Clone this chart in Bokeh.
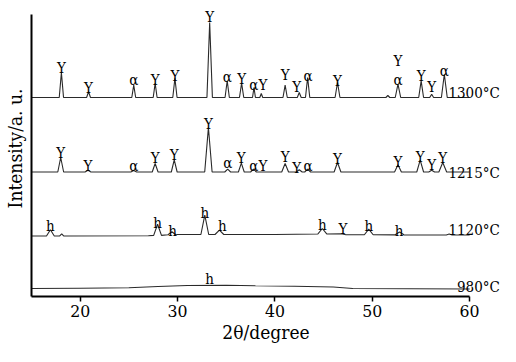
import numpy as np
from bokeh.plotting import figure
from bokeh.models import FixedTicker, LinearAxis, Range1d, ColumnDataSource
from bokeh.embed import file_html
from bokeh.resources import INLINE
from bokeh.core.properties import value

# ---------------- data (2theta in degrees, intensity in arbitrary stacked units) ----------------
x_ticks = [20, 30, 40, 50, 60]

# 1300 °C pattern
bl1300_x = [15, 60]
bl1300_y = [199, 199]
pk1300_pos = [18.07, 20.86, 25.5, 27.7, 29.73, 33.3, 35.1, 36.58, 37.85, 38.6, 41.05, 42.5, 43.36, 46.43, 51.6, 52.64, 55.02, 56.1, 57.4]
pk1300_top = [224, 204.7, 211.3, 213.3, 218.3, 274, 215.7, 213.3, 209, 203, 211.3, 204, 219, 214, 201, 212.3, 215.7, 202.3, 222.3]
pk1300_w = [0.22, 0.2, 0.2, 0.2, 0.22, 0.28, 0.22, 0.22, 0.15, 0.15, 0.22, 0.2, 0.22, 0.25, 0.2, 0.28, 0.25, 0.2, 0.3]

# 1215 °C pattern
bl1215_x = [15, 60]
bl1215_y = [124.5, 124.5]
pk1215_pos = [18.0, 20.8, 25.5, 27.7, 29.66, 33.17, 35.15, 36.55, 37.8, 41.05, 42.5, 43.36, 46.43, 52.64, 54.92, 56.1, 57.24]
pk1215_top = [139, 126.3, 126, 133, 136.7, 169, 127.3, 133.3, 127.3, 133, 126.7, 127.3, 134, 131.7, 136.3, 126.3, 134]
pk1215_w = [0.3, 0.3, 0.3, 0.3, 0.3, 0.38, 0.3, 0.3, 0.3, 0.35, 0.3, 0.3, 0.35, 0.35, 0.35, 0.3, 0.4]

# 1120 °C pattern
bl1120_x = [15, 27, 30, 40, 44.5, 46.8, 47.3, 60]
bl1120_y = [60.5, 60.7, 62, 62, 62.5, 62.8, 61.8, 61.5]
pk1120_pos = [16.94, 18.1, 27.95, 29.42, 32.8, 34.3, 44.87, 49.64, 52.8, 57.9]
pk1120_top = [66.7, 62.6, 72.3, 64.7, 81.3, 66.3, 68, 67.3, 64.5, 62.6]
pk1120_w = [0.4, 0.2, 0.4, 0.4, 0.4, 0.45, 0.45, 0.45, 0.45, 0.3]

# 980 °C pattern (amorphous)
bl980_x = [15, 20, 25, 28, 31, 35, 38, 42, 46, 48, 60]
bl980_y = [8, 8.3, 8.7, 10, 11, 11.2, 10.7, 10.3, 9.5, 8, 7.5]

# phase labels: text, x position, y baseline
lab_text = (["Y", "Y", "α", "Y", "Y", "Y", "α", "Y", "αY", "Y", "Y", "α", "Y", "Y", "α", "Y", "Y", "α"]
            + ["Y", "Y", "α", "Y", "Y", "Y", "α", "Y", "αY", "Y", "Y", "α", "Y", "Y", "Y", "Y", "Y"]
            + ["h", "h", "h", "h", "h", "h", "Y", "h", "h", "h"])
lab_x = ([18.07, 20.86, 25.5, 27.7, 29.73, 33.3, 35.1, 36.58, 38.3, 41.05, 42.25, 43.4, 46.43, 52.64, 52.64, 55.02, 56.1, 57.4]
         + [18.0, 20.8, 25.5, 27.7, 29.66, 33.17, 35.15, 36.55, 38.3, 41.05, 42.25, 43.4, 46.43, 52.64, 54.92, 56.1, 57.24]
         + [16.94, 27.95, 29.5, 32.8, 34.6, 44.87, 47.0, 49.64, 52.75, 33.3])
lab_y = ([229, 209, 217, 217, 221, 280, 220, 218, 212, 222, 210, 221, 216, 236, 217, 221, 210, 226]
         + [144, 131, 131, 139, 142, 173, 134, 139, 131, 140, 129, 131, 138, 135, 140, 132, 139]
         + [71, 74, 66, 84, 71, 72, 68, 71, 66, 18])

temps = ["1300°C", "1215°C", "1120°C", "980°C"]
temp_y = [204, 124, 67, 10]


def pattern(bx, by, pos, top, w):
    bx = list(bx); by = list(by)
    xs = []; ys = []
    for xx, yy in zip(bx, by):
        if all(abs(xx - c) > wc for c, wc in zip(pos, w)):
            xs.append(xx); ys.append(yy)
    for c, t, wc in zip(pos, top, w):
        b = float(np.interp(c, bx, by))
        xs += [c - wc, c, c + wc]
        ys += [b, t, b]
    order = np.argsort(xs, kind="stable")
    return [xs[i] for i in order], [ys[i] for i in order]


FONT = "DejaVu Serif Condensed"

p = figure(width=500, height=346, output_backend="svg", toolbar_location=None,
           x_range=Range1d(15, 63.17), y_range=Range1d(0, 296),
           x_axis_location=None, y_axis_location=None,
           min_border_left=29, min_border_right=0, min_border_top=0, min_border_bottom=50)
p.outline_line_color = None
p.grid.visible = False
p.background_fill_color = "white"
p.border_fill_color = "white"

xa = LinearAxis(ticker=FixedTicker(ticks=x_ticks), bounds=(15, 60))
xa.axis_label = "2θ/degree"
xa.axis_label_text_font = FONT
xa.axis_label_text_font_style = "normal"
xa.axis_label_text_font_size = "19px"
xa.axis_label_text_color = "black"
xa.axis_label_standoff = 1
xa.major_label_text_font = FONT
xa.major_label_text_font_size = "17.5px"
xa.major_label_text_color = "black"
xa.major_label_standoff = 3
xa.major_tick_in = 0
xa.major_tick_out = 5
xa.minor_tick_in = 0
xa.minor_tick_out = 0
xa.axis_line_width = 2
xa.major_tick_line_width = 1.5
xa.axis_line_color = "black"
p.add_layout(xa, "below")

ya = LinearAxis(ticker=FixedTicker(ticks=[]), bounds=(0, 282))
ya.axis_label = "Intensity/a. u."
ya.axis_label_text_font = FONT
ya.axis_label_text_font_style = "normal"
ya.axis_label_text_font_size = "19px"
ya.axis_label_text_color = "black"
ya.axis_label_standoff = 6
ya.major_tick_in = 0
ya.major_tick_out = 0
ya.minor_tick_in = 0
ya.minor_tick_out = 0
ya.major_label_text_font_size = "0px"
ya.axis_line_width = 2
ya.axis_line_color = "black"
p.add_layout(ya, "left")

for bx, by, pos, top, w in [
    (bl1300_x, bl1300_y, pk1300_pos, pk1300_top, pk1300_w),
    (bl1215_x, bl1215_y, pk1215_pos, pk1215_top, pk1215_w),
    (bl1120_x, bl1120_y, pk1120_pos, pk1120_top, pk1120_w),
    (bl980_x, bl980_y, [], [], []),
]:
    xs, ys = pattern(bx, by, pos, top, w)
    p.line(xs, ys, line_color="#2a2a2a", line_width=1.1)

lsrc = ColumnDataSource(dict(x=lab_x, y=lab_y, t=lab_text))
p.text(x="x", y="y", text="t", source=lsrc, text_font=value(FONT), text_font_size="15px",
       text_align="center", text_baseline="alphabetic", text_color="black")

tsrc = ColumnDataSource(dict(x=[63.1] * 4, y=temp_y, t=temps))
p.text(x="x", y="y", text="t", source=tsrc, text_font=value(FONT), text_font_size="15px",
       text_align="right", text_baseline="alphabetic", text_color="black")

open("out.html", "w").write(file_html(p, INLINE))
